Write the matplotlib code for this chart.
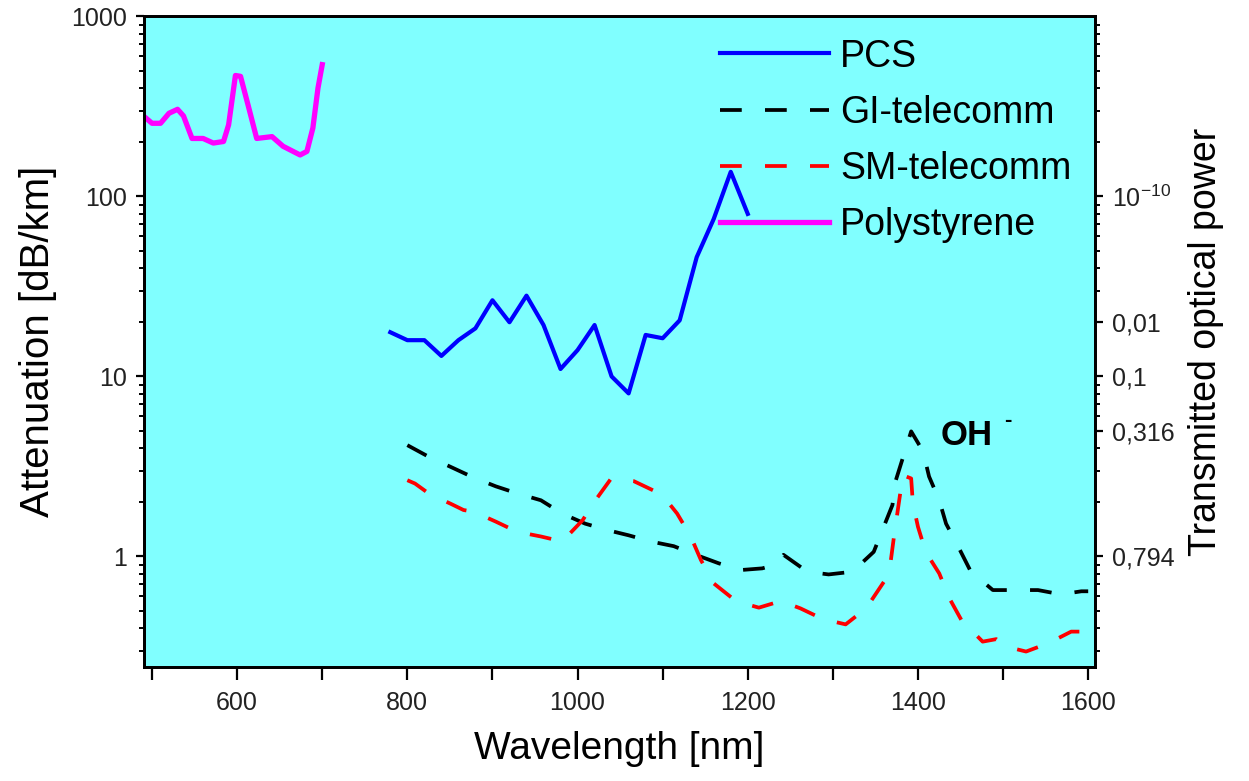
import matplotlib
matplotlib.use("Agg")
import matplotlib.pyplot as plt
from matplotlib.ticker import FixedLocator, LogLocator, NullFormatter, FixedFormatter, MultipleLocator

plt.rcParams['font.family'] = ['Liberation Sans', 'DejaVu Sans']
plt.rcParams['mathtext.default'] = 'regular'

# ---- data ----
poly_wl = [490, 500, 510, 520, 530, 537, 547, 560, 572, 584, 590, 598, 604, 613, 623, 641, 654, 674, 682, 689, 695, 700]
poly_att = [280, 255, 255, 290, 305, 280, 210, 210, 198, 202, 250, 470, 465, 320, 210, 215, 190, 170, 178, 240, 400, 540]

pcs_wl = [780, 800, 820, 840, 860, 880, 900, 920, 940, 960, 980, 1000, 1020, 1040, 1060, 1080, 1100, 1120, 1140, 1160, 1180, 1200]
pcs_att = [17.6, 15.9, 15.9, 13.0, 15.9, 18.5, 26.5, 20.0, 28.1, 19.3, 11.0, 14.0, 19.3, 10.0, 8.05, 17.0, 16.3, 20.5, 46.0, 75.0, 137.0, 80.0]

gi_wl = [800, 825, 853, 878, 904, 929, 957, 982, 1009, 1035, 1060, 1086, 1113, 1139, 1166, 1192, 1217, 1231, 1242, 1270, 1295, 1323,
         1348, 1360, 1370, 1374, 1382, 1392, 1406, 1413, 1425, 1433, 1447, 1462, 1488, 1515, 1541, 1568, 1592, 1600]
gi_att = [4.15, 3.58, 3.11, 2.74, 2.45, 2.24, 2.05, 1.73, 1.52, 1.40, 1.31, 1.21, 1.14, 1.02, 0.915, 0.84, 0.858, 0.895, 1.02, 0.822, 0.794, 0.822,
          1.06, 1.47, 1.93, 2.65, 3.5, 4.95, 3.83, 2.78, 2.05, 1.52, 1.14, 0.825, 0.65, 0.65, 0.65, 0.615, 0.64, 0.64]

sm_wl = [800, 809, 825, 853, 866, 878, 904, 929, 957, 982, 1006, 1021, 1039, 1066, 1092, 1106, 1117, 1133, 1145, 1160, 1186, 1213, 1239,
         1262, 1288, 1315, 1339, 1360, 1368, 1372, 1376, 1380, 1382, 1392, 1394, 1400, 1409, 1425, 1437, 1451, 1476, 1492, 1504,
         1527, 1553, 1580, 1590, 1600]
sm_att = [2.65, 2.54, 2.24, 1.94, 1.81, 1.77, 1.56, 1.37, 1.29, 1.21, 1.59, 2.05, 2.69, 2.62, 2.29, 2.01, 1.73, 1.29, 0.954, 0.708, 0.565, 0.519, 0.565,
          0.514, 0.449, 0.419, 0.514, 0.723, 0.942, 1.31, 1.77, 2.39, 2.83, 2.71, 1.97, 1.46, 1.06, 0.804, 0.584, 0.443, 0.336, 0.347, 0.315,
          0.296, 0.329, 0.382, 0.382, 0.453]

right_tick_vals = [100, 20, 10, 5, 1]
right_tick_labels = ['10$^{-10}$', '0,01', '0,1', '0,316', '0,794']
left_tick_vals = [1, 10, 100, 1000]
left_tick_labels = ['1', '10', '100', '1000']
x_tick_vals = [600, 800, 1000, 1200, 1400, 1600]

# ---- figure ----
fig = plt.figure(figsize=(12.49, 7.81), dpi=100)
ax = fig.add_axes([0.1149, 0.146, 0.7618, 0.8329])
ax.set_facecolor('#80FFFF')

ax.plot(pcs_wl, pcs_att, color='#0000FF', lw=3.0, label='PCS')
ax.plot(gi_wl, gi_att, color='black', lw=2.7, dashes=(5.8, 6.2), label='GI-telecomm')
ax.plot(sm_wl, sm_att, color='#FF0000', lw=2.7, dashes=(5.8, 6.2), label='SM-telecomm')
ax.plot(poly_wl, poly_att, color='#FF00FF', lw=3.8, label='Polystyrene')

ax.set_yscale('log')
ax.set_xlim(490, 1608)
ax.set_ylim(0.243, 1000)

ax.yaxis.set_major_locator(FixedLocator(left_tick_vals))
ax.yaxis.set_major_formatter(FixedFormatter(left_tick_labels))
ax.yaxis.set_minor_locator(LogLocator(base=10, subs=[2, 3, 4, 5, 6, 7, 8, 9], numticks=20))
ax.yaxis.set_minor_formatter(NullFormatter())
ax.xaxis.set_major_locator(FixedLocator(x_tick_vals))
ax.xaxis.set_minor_locator(MultipleLocator(100))

for sp in ax.spines.values():
    sp.set_linewidth(2.0)

ax.tick_params(axis='y', which='major', direction='out', length=6, width=1.6, labelsize=18, pad=6, right=False)
ax.tick_params(axis='y', which='minor', direction='out', length=3.5, width=1.4, right=False)
ax.tick_params(axis='x', which='major', direction='out', length=9, width=1.6, labelsize=18, pad=8, top=False)
ax.tick_params(axis='x', which='minor', direction='out', length=9, width=1.6, top=False)
for t in ax.get_xticklabels() + ax.get_yticklabels():
    t.set_color('#222222')

ax.set_xlabel('Wavelength [nm]', fontsize=28, labelpad=12)
ax.set_ylabel('Attenuation [dB/km]', fontsize=29, labelpad=10)

ax2 = ax.twinx()
ax2.set_yscale('log')
ax2.set_ylim(ax.get_ylim())
ax2.yaxis.set_major_locator(FixedLocator(right_tick_vals))
ax2.yaxis.set_major_formatter(FixedFormatter(right_tick_labels))
ax2.yaxis.set_minor_locator(LogLocator(base=10, subs=[2, 3, 4, 5, 6, 7, 8, 9], numticks=20))
ax2.yaxis.set_minor_formatter(NullFormatter())
ax2.tick_params(axis='y', which='major', direction='out', length=6, width=1.6, labelsize=18, pad=6)
ax2.tick_params(axis='y', which='minor', direction='out', length=3.5, width=1.4)
for t in ax2.get_yticklabels():
    t.set_color('#222222')
ax2.set_ylabel('Transmitted optical power', fontsize=27, labelpad=10)
for sp in ax2.spines.values():
    sp.set_linewidth(2.0)

ax.text(1427, 4.16, 'OH', fontsize=25, fontweight='bold', ha='left', va='baseline')
ax.text(1501, 5.3, '-', fontsize=16, fontweight='bold', ha='left', va='baseline')

leg = ax.legend(loc='upper left', bbox_to_anchor=(0.606, 0.966), frameon=False, fontsize=27,
                handlelength=2.9, handletextpad=0.3, labelspacing=0.54, borderpad=0, borderaxespad=0)

fig.savefig('out.png', dpi=100)
